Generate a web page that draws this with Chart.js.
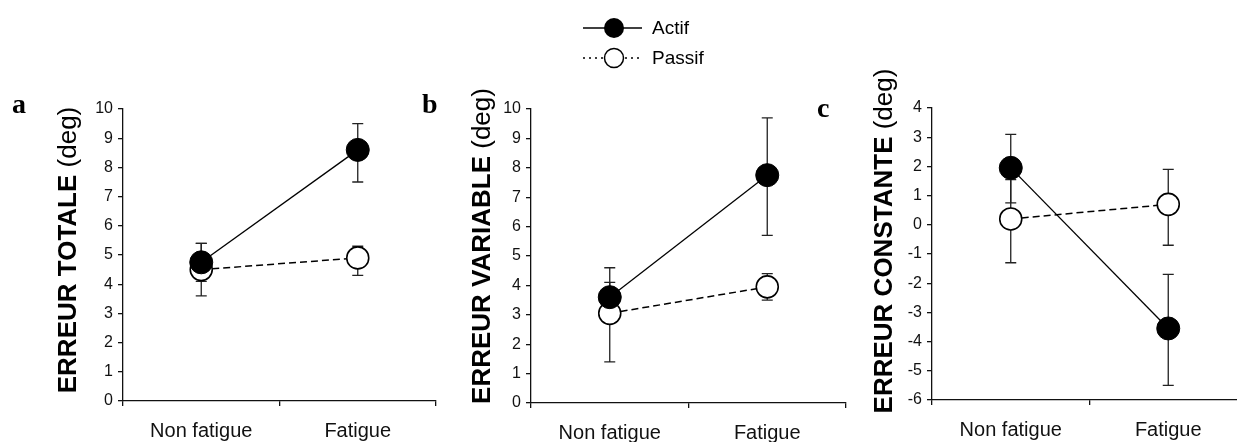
<!DOCTYPE html>
<html>
<head>
<meta charset="utf-8">
<script src="https://cdn.jsdelivr.net/npm/chart.js@4/dist/chart.umd.min.js"></script>
<style>
  html, body { margin: 0; padding: 0; background: #fff; overflow: hidden; }
  body { position: relative; width: 1237px; height: 442px; }
  canvas { position: absolute; top: 0; }
</style>
</head>
<body>
<canvas id="chartA" width="440" height="442" style="left:0px"></canvas>
<canvas id="chartB" width="445" height="442" style="left:405px"></canvas>
<canvas id="chartC" width="445" height="442" style="left:805px"></canvas>
<script>
// 横轴类别
const categories = ['Non fatigue', 'Fatigue'];

// a: ERREUR TOTALE
const actifA = [4.75, 8.6];
const actifALow = [4.1, 7.5];
const actifAHigh = [5.4, 9.5];
const passifA = [4.5, 4.9];
const passifALow = [3.6, 4.3];
const passifAHigh = [5.4, 5.3];

// b: ERREUR VARIABLE
const actifB = [3.6, 7.75];
const actifBLow = [3.1, 5.7];
const actifBHigh = [4.1, 9.7];
const passifB = [3.05, 3.95];
const passifBLow = [1.4, 3.5];
const passifBHigh = [4.6, 4.4];

// c: ERREUR CONSTANTE
const actifC = [1.95, -3.55];
const actifCLow = [0.75, -5.5];
const actifCHigh = [3.1, -1.7];
const passifC = [0.2, 0.7];
const passifCLow = [-1.3, -0.7];
const passifCHigh = [1.55, 1.9];

const FONT = "'Liberation Sans', Arial, sans-serif";
const INK = '#111';

/**
 * 误差线 + 面板字母 + 纵轴标题
 */
const panelDecor = {
  id: 'panelDecor',
  beforeDatasetsDraw(chart, args, opts) {
    const ctx = chart.ctx;
    const x = chart.scales.x, y = chart.scales.y;
    ctx.save();
    ctx.strokeStyle = '#222';
    ctx.lineWidth = 1.3;
    opts.errors.forEach(err => {
      err.low.forEach((lo, i) => {
        const px = x.getPixelForValue(i);
        const y1 = y.getPixelForValue(lo);
        const y2 = y.getPixelForValue(err.high[i]);
        ctx.beginPath();
        ctx.moveTo(px, y1); ctx.lineTo(px, y2);
        ctx.moveTo(px - 5.5, y1); ctx.lineTo(px + 5.5, y1);
        ctx.moveTo(px - 5.5, y2); ctx.lineTo(px + 5.5, y2);
        ctx.stroke();
      });
    });
    ctx.restore();
  },
  afterDraw(chart, args, opts) {
    const ctx = chart.ctx;
    ctx.save();
    ctx.fillStyle = '#000';
    // 面板字母
    ctx.font = "bold 28px 'Liberation Serif', 'Times New Roman', serif";
    ctx.textBaseline = 'alphabetic';
    ctx.textAlign = 'left';
    ctx.fillText(opts.letter, opts.letterX, opts.letterY);

    // 纵轴标题（粗体 + 常规）
    const bold = 'bold 26px ' + FONT;
    const normal = '26px ' + FONT;
    ctx.font = bold;
    const w1 = ctx.measureText(opts.title + ' ').width;
    ctx.font = normal;
    const w2 = ctx.measureText('(deg)').width;
    ctx.translate(opts.titleX, opts.titleY);
    ctx.rotate(-Math.PI / 2);
    const start = -(w1 + w2) / 2;
    ctx.font = bold;
    ctx.fillText(opts.title + ' ', start, 0);
    ctx.font = normal;
    ctx.fillText('(deg)', start + w1, 0);
    ctx.restore();

    if (opts.legend) drawLegend(ctx, opts.legend);
  }
};

/**
 * 图例（画在 b 面板画布上）
 */
function drawLegend(ctx, lg) {
  ctx.save();
  ctx.strokeStyle = '#000';
  ctx.lineWidth = 1.3;
  // Actif
  ctx.beginPath();
  ctx.moveTo(lg.x0, lg.y1); ctx.lineTo(lg.x1, lg.y1);
  ctx.stroke();
  ctx.beginPath();
  ctx.arc(lg.cx, lg.y1, 10, 0, Math.PI * 2);
  ctx.fillStyle = '#000';
  ctx.fill();
  // Passif
  ctx.setLineDash([2, 4]);
  ctx.beginPath();
  ctx.moveTo(lg.x0, lg.y2); ctx.lineTo(lg.x1, lg.y2);
  ctx.stroke();
  ctx.setLineDash([]);
  ctx.beginPath();
  ctx.arc(lg.cx, lg.y2, 9.5, 0, Math.PI * 2);
  ctx.fillStyle = '#fff';
  ctx.fill();
  ctx.lineWidth = 1.5;
  ctx.stroke();
  // 文字
  ctx.fillStyle = '#000';
  ctx.font = '19px ' + FONT;
  ctx.textAlign = 'left';
  ctx.textBaseline = 'middle';
  ctx.fillText('Actif', lg.tx, lg.y1 + 1);
  ctx.fillText('Passif', lg.tx, lg.y2 + 1);
  ctx.restore();
}

/**
 * 渲染单个面板
 */
function renderPanel(canvasId, actif, passif, options) {
  const ctx = document.getElementById(canvasId);
  return new Chart(ctx, {
    type: 'line',
    data: {
      labels: categories,
      datasets: [
        {
          label: 'Actif',
          data: actif,
          borderColor: '#000',
          borderWidth: 1.3,
          pointRadius: 11.5,
          pointBackgroundColor: '#000',
          pointBorderColor: '#000',
          pointBorderWidth: 1,
          order: 0
        },
        {
          label: 'Passif',
          data: passif,
          borderColor: '#000',
          borderWidth: 1.5,
          borderDash: [7, 4],
          pointRadius: 11,
          pointBackgroundColor: '#fff',
          pointBorderColor: '#000',
          pointBorderWidth: 1.6,
          order: 1
        }
      ]
    },
    options: {
      responsive: false,
      animation: false,
      layout: { autoPadding: false, padding: options.padding },
      scales: {
        x: {
          type: 'category',
          offset: true,
          afterFit: s => {
            s.height = options.xHeight;
            s.paddingLeft = 0;
            s.paddingRight = 0;
          },
          border: { color: INK, width: 1.3 },
          grid: { drawOnChartArea: false, offset: true, tickLength: 5, color: INK, lineWidth: 1.3 },
          ticks: { color: INK, font: { family: FONT, size: 20 }, padding: 13, maxRotation: 0 }
        },
        y: {
          min: options.yMin,
          max: options.yMax,
          afterFit: s => { s.width = options.yWidth; },
          border: { color: INK, width: 1.3 },
          grid: { drawOnChartArea: false, tickLength: 5, color: INK, lineWidth: 1.3 },
          ticks: { stepSize: 1, color: INK, font: { family: FONT, size: 16 }, padding: 5 }
        }
      },
      plugins: {
        legend: { display: false },
        tooltip: { enabled: false },
        panelDecor: options.decor
      }
    },
    plugins: [panelDecor]
  });
}

renderPanel('chartA', actifA, passifA, {
  padding: { left: 0, right: 4, top: 109, bottom: 0 },
  yWidth: 123, xHeight: 41, yMin: 0, yMax: 10,
  decor: {
    letter: 'a', letterX: 12, letterY: 113,
    title: 'ERREUR TOTALE', titleX: 76, titleY: 250,
    errors: [
      { low: passifALow, high: passifAHigh },
      { low: actifALow, high: actifAHigh }
    ]
  }
});

renderPanel('chartB', actifB, passifB, {
  padding: { left: 0, right: 4, top: 109, bottom: 0 },
  yWidth: 126, xHeight: 39, yMin: 0, yMax: 10,
  decor: {
    letter: 'b', letterX: 17, letterY: 113,
    title: 'ERREUR VARIABLE', titleX: 85, titleY: 246,
    errors: [
      { low: passifBLow, high: passifBHigh },
      { low: actifBLow, high: actifBHigh }
    ],
    legend: { x0: 178, x1: 237, cx: 209, tx: 247, y1: 28, y2: 58 }
  }
});

renderPanel('chartC', actifC, passifC, {
  padding: { left: 0, right: 3, top: 108, bottom: 0 },
  yWidth: 127, xHeight: 42, yMin: -6, yMax: 4,
  decor: {
    letter: 'c', letterX: 12, letterY: 117,
    title: 'ERREUR CONSTANTE', titleX: 87, titleY: 241,
    errors: [
      { low: passifCLow, high: passifCHigh },
      { low: actifCLow, high: actifCHigh }
    ]
  }
});
</script>
</body>
</html>
